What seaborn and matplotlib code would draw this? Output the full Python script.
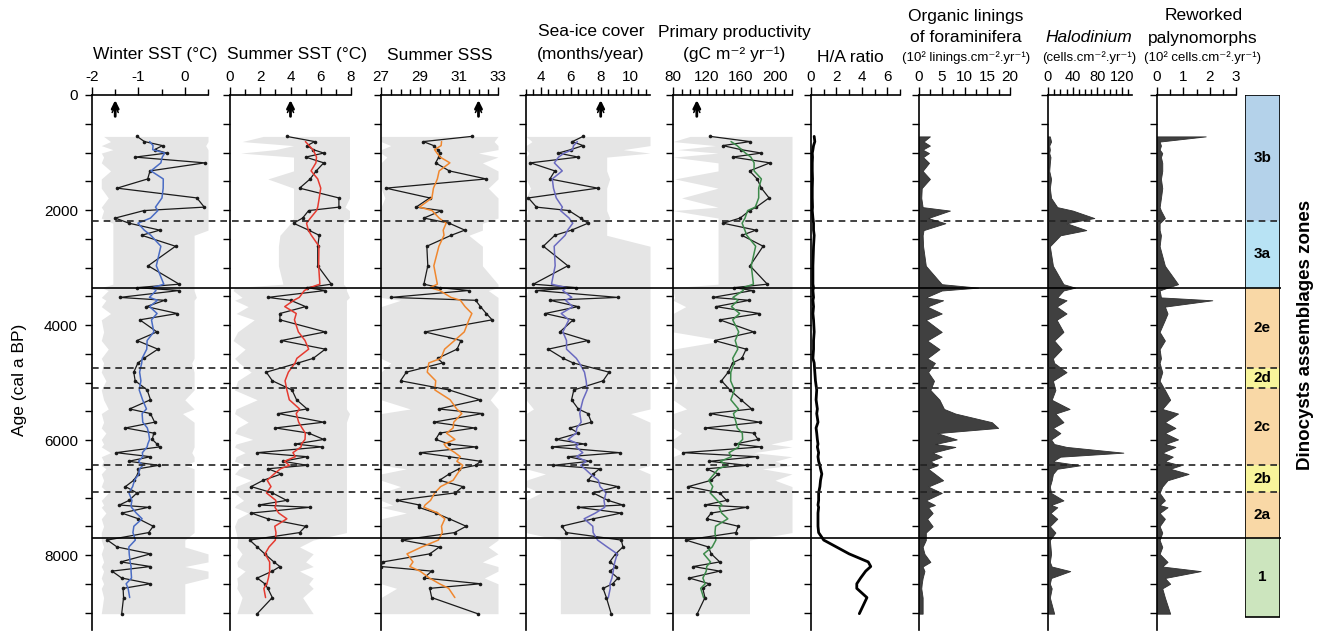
import matplotlib
matplotlib.use("Agg")
import matplotlib.pyplot as plt
import matplotlib.ticker as mticker
from matplotlib.patches import Rectangle
import numpy as np
import pandas as pd
import seaborn as sns

# sample ages (cal a BP), shared by all records
age = [720, 810, 880, 950, 1010, 1080, 1180, 1320, 1460, 1620, 1790, 1950, 2010, 2140, 2230, 2350, 2440, 2630, 2970, 3290,
       3350, 3400, 3520, 3570, 3680, 3800, 3910, 4120, 4270, 4420, 4580, 4660, 4820, 4970, 5130, 5300, 5460, 5540, 5690, 5790,
       5880, 5990, 6070, 6120, 6220, 6290, 6370, 6440, 6500, 6590, 6700, 6810, 6920, 7050, 7130, 7170, 7270, 7370, 7500, 7610,
       7740, 7860, 7980, 8120, 8200, 8280, 8400, 8500, 8580, 8740, 9020]

winter_sst = [-1.03, -0.87, -0.48, -0.65, -0.39, -1.07, 0.43, -0.75, -0.80, -1.46, 0.26, 0.42, -0.88, -1.5, -1.2, -0.54, -0.93, -0.2, -0.79, -0.12,
              -1.03, -0.12, -1.4, -0.43, -0.83, -0.16, -0.97, -0.6, -1.03, -0.58, -0.88, -1.01, -1.10, -1.07, -0.81, -0.74, -1.19, -0.74, -0.65, -1.28,
              -0.67, -0.7, -0.6, -0.54, -1.48, -0.74, -1.21, -0.56, -1.0, -1.01, -1.10, -1.28, -1.03, -1.2, -1.41, -0.78, -1.36, -1.0, -0.68, -0.78,
              -1.67, -1.46, -0.74, -1.38, -0.74, -1.57, -1.36, -0.74, -1.33, -1.32, -1.36]
winter_lo = [-1.75, -1.6, -1.8, -1.55, -1.8, -1.75, -1.8, -1.6, -1.8, -1.8, -1.65, -1.8, -1.75, -1.8, -1.55, -1.55, -1.55, -1.55, -1.55, -1.55,
             -1.8, -1.65, -1.8, -1.7, -1.8, -1.6, -1.8, -1.75, -1.8, -1.65, -1.8, -1.75, -1.8, -1.7, -1.8, -1.75, -1.65, -1.8, -1.75, -1.8,
             -1.7, -1.8, -1.75, -1.8, -1.6, -1.8, -1.75, -1.8, -1.7, -1.8, -1.75, -1.8, -1.65, -1.8, -1.75, -1.8, -1.7, -1.8, -1.75, -1.8,
             -1.8, -1.75, -1.8, -1.75, -1.8, -1.75, -1.8, -1.75, -1.8, -1.75, -1.8]
winter_hi = [0.5, 0.5, 0.45, 0.5, 0.5, 0.5, 0.5, 0.5, 0.5, 0.5, 0.5, 0.5, 0.5, 0.5, 0.5, 0.5, 0.2, 0.2, 0.2, 0.2,
             0.2, 0.2, 0.25, 0.2, 0.2, 0.2, 0.2, 0.2, 0.2, 0.2, 0.2, 0.15, 0.2, 0.2, 0.2, 0.0, 0.2, -0.05, 0.2, 0.2,
             0.2, 0.2, 0.2, 0.2, 0.15, 0.2, 0.2, 0.0, 0.2, 0.2, 0.2, 0.2, 0.2, 0.2, 0.2, 0.2, 0.2, 0.2, 0.2, 0.2,
             0.0, 0.0, 0.5, 0.5, 0.0, 0.5, 0.5, 0.0, 0.0, 0.0, 0.0]

summer_sst = [3.75, 5.6, 5.1, 5.5, 6.2, 5.0, 6.2, 5.7, 5.3, 4.6, 7.2, 7.2, 5.2, 4.8, 4.2, 5.2, 5.9, 5.8, 5.8, 6.7,
              5.1, 6.3, 2.5, 4.0, 5.0, 3.3, 3.3, 6.3, 3.4, 6.3, 5.5, 4.5, 2.4, 2.8, 4.1, 4.4, 5.1, 3.2, 6.2, 3.0,
              5.2, 6.2, 4.3, 6.1, 1.8, 5.1, 3.5, 5.1, 2.5, 3.4, 2.2, 1.4, 2.8, 3.75, 1.9, 5.3, 1.4, 2.5, 5.0, 4.6,
              1.3, 1.8, 2.3, 2.9, 3.3, 2.8, 1.8, 2.3, 2.5, 2.8, 1.8]
summer_lo = [2.2, 0.8, 4.2, 3.0, 0.7, 4.2, 4.2, 4.2, 2.5, 4.2, 4.2, 4.2, 4.2, 4.2, 4.0, 3.6, 3.3, 3.2, 3.2, 3.5,
             0.3, 0.2, 0.8, 0.3, 1.2, 0.4, 1.6, 0.5, 0.2, 1.0, 0.3, 0.6, 1.4, 0.5, 0.3, 1.8, 0.4, 0.3, 1.2, 0.5,
             0.3, 1.5, 0.4, 0.3, 1.0, 0.4, 0.3, 1.1, 0.6, 0.3, 1.4, 0.4, 0.3, 0.9, 0.4, 0.3, 1.2, 0.5, 0.3, 0.4,
             0.5, 0.45, 0.8, 0.45, 0.5, 1.0, 0.45, 0.5, 0.45, 0.8, 0.45]
summer_hi = [7.9, 7.9, 7.9, 7.9, 7.9, 7.9, 7.9, 7.9, 7.9, 7.9, 7.9, 7.6, 7.9, 7.9, 7.5, 7.5, 7.5, 7.5, 7.5, 7.5,
             7.7, 7.7, 7.9, 7.7, 7.7, 7.7, 7.7, 7.7, 7.7, 7.7, 7.7, 7.7, 7.7, 7.7, 7.7, 7.7, 7.7, 7.9, 7.7, 7.7,
             7.7, 7.7, 7.7, 7.7, 7.7, 7.7, 7.7, 7.7, 7.7, 7.7, 7.7, 7.7, 7.7, 7.7, 7.7, 7.7, 7.7, 7.7, 7.7, 7.7,
             5.5, 4.6, 5.5, 5.0, 5.5, 4.6, 5.5, 5.2, 5.5, 4.8, 5.5]

summer_sss = [31.65, 29.17, 29.7, 29.9, 30.0, 29.96, 29.8, 30.5, 32.4, 27.25, 29.5, 28.8, 30.1, 29.2, 30.5, 31.3, 30.6, 29.35, 29.4, 29.2,
              30.0, 31.5, 27.5, 31.85, 32.1, 32.4, 32.7, 29.25, 31.1, 30.9, 29.9, 30.16, 28.3, 28.0, 30.5, 32.07, 29.95, 32.2, 29.7, 31.8,
              30.0, 29.8, 30.5, 31.86, 29.0, 30.5, 32.1, 31.86, 31.0, 30.5, 30.0, 31.2, 30.8, 27.8, 28.97, 28.93, 29.8, 30.5, 31.37, 30.77,
              28.07, 30.0, 29.5, 27.1, 27.0, 29.6, 29.2, 32.1, 29.5, 29.6, 31.95]
sss_lo = [27.0, 27.0, 27.5, 27.0, 27.0, 27.3, 27.0, 27.0, 27.0, 27.0, 27.2, 27.0, 27.0, 27.0, 27.0, 27.0, 27.0, 27.0, 27.0, 27.0,
          27.0, 27.0, 27.0, 28.0, 27.0, 27.0, 27.0, 27.0, 27.0, 27.0, 27.0, 27.5, 27.0, 27.0, 27.0, 27.0, 28.5, 27.0, 27.0, 27.0,
          27.0, 27.0, 27.0, 27.0, 27.0, 27.0, 27.0, 27.0, 28.3, 27.0, 27.0, 28.0, 27.0, 27.0, 27.6, 27.0, 28.3, 27.0, 27.0, 27.0,
          27.0, 27.0, 27.0, 27.0, 27.0, 27.0, 27.0, 27.0, 27.8, 27.0, 27.0]
sss_hi = [33.0, 32.8, 33.0, 33.0, 32.0, 33.0, 32.2, 33.0, 33.0, 32.5, 33.0, 33.0, 33.0, 33.0, 32.2, 32.2, 31.5, 32.2, 32.2, 33.0,
          33.0, 32.5, 33.0, 33.0, 33.0, 33.0, 33.0, 33.0, 33.0, 33.0, 33.0, 33.0, 33.0, 33.0, 33.0, 32.6, 33.0, 33.0, 33.0, 33.0,
          33.0, 33.0, 33.0, 33.0, 33.0, 33.0, 33.0, 33.0, 33.0, 33.0, 33.0, 33.0, 33.0, 33.0, 33.0, 33.0, 33.0, 33.0, 33.0, 33.0,
          33.0, 32.5, 33.0, 32.2, 33.0, 33.0, 32.3, 33.0, 33.0, 33.0, 33.0]

sea_ice = [6.82, 6.11, 6.82, 6.0, 5.16, 6.5, 3.3, 4.93, 4.6, 7.8, 3.16, 3.7, 5.87, 6.65, 7.15, 6.05, 4.93, 4.16, 5.8, 3.49,
           6.38, 3.7, 9.15, 4.6, 6.49, 4.27, 6.16, 5.27, 7.15, 4.49, 5.49, 6.16, 8.56, 8.16, 6.2, 6.05, 6.5, 7.15, 7.38, 5.93,
           6.5, 5.04, 6.93, 4.71, 9.27, 5.82, 7.27, 4.82, 7.93, 7.5, 7.15, 9.15, 7.49, 8.49, 9.49, 6.49, 9.38, 7.5, 5.38, 5.71,
           9.38, 9.49, 9.0, 8.6, 9.05, 8.6, 9.15, 8.8, 8.16, 8.38, 8.7]
ice_lo = [3.0, 3.4, 3.0, 3.0, 3.2, 3.0, 3.0, 3.0, 3.0, 3.3, 3.0, 3.0, 3.1, 3.0, 3.0, 3.0, 3.0, 3.0, 3.0, 3.0,
          3.0, 3.1, 3.0, 3.0, 3.0, 3.0, 3.0, 3.0, 3.0, 3.0, 3.0, 3.0, 3.0, 3.0, 3.0, 3.0, 3.5, 3.0, 3.0, 3.0,
          3.0, 3.0, 3.0, 3.0, 3.0, 3.0, 3.0, 3.0, 3.0, 4.3, 3.0, 3.0, 4.0, 3.0, 3.0, 3.0, 3.0, 3.0, 3.0, 3.0,
          5.3, 5.3, 5.3, 5.3, 5.3, 5.3, 5.3, 5.3, 5.3, 5.3, 5.3]
ice_hi = [11.3, 11.3, 11.3, 9.5, 11.3, 8.4, 8.4, 8.4, 8.6, 8.4, 8.4, 8.4, 8.4, 8.6, 8.4, 8.4, 8.4, 11.3, 11.3, 11.3,
          11.3, 11.3, 11.3, 11.3, 11.3, 11.3, 11.3, 11.3, 11.3, 11.3, 11.3, 11.3, 11.3, 11.3, 11.3, 11.3, 11.3, 10.0, 11.3, 11.3,
          11.3, 11.3, 11.3, 11.3, 11.3, 11.3, 11.3, 11.3, 10.5, 11.3, 11.3, 11.3, 11.3, 11.3, 11.3, 11.3, 11.3, 11.3, 11.3, 11.3,
          11.3, 11.3, 11.3, 11.3, 11.3, 11.3, 11.3, 11.3, 11.3, 11.3, 11.3]

productivity = [124, 170.6, 138.5, 160, 184, 150, 194, 170, 179, 184, 193, 178, 170, 159, 139, 177.6, 161, 186, 170.6, 191,
                151.8, 173.7, 126.7, 169.8, 130.6, 181.6, 135, 175, 129, 166, 161, 150, 145, 137, 147, 160, 172.6, 123.5, 182, 117.6,
                175, 180, 153, 184, 91.4, 178.5, 122.7, 166.7, 119.6, 133, 125, 98, 135, 143, 117.6, 167, 125, 119.6, 156.8, 154,
                95, 121.6, 125, 135, 104, 135, 99, 122.7, 115, 117.6, 108.6]
prod_lo = [100, 80, 130, 85, 133, 80, 133, 133, 82, 133, 90, 133, 80, 133, 133, 133, 133, 133, 133, 133,
           80, 80, 82, 80, 95, 80, 80, 80, 140, 80, 80, 80, 80, 85, 80, 80, 96, 80, 80, 80,
           90, 80, 80, 80, 92, 80, 80, 80, 80, 80, 80, 80, 80, 80, 80, 80, 80, 80, 80, 80,
           80, 80, 80, 80, 80, 80, 80, 80, 80, 80, 80]
prod_hi = [220, 220, 220, 220, 220, 220, 220, 220, 220, 220, 220, 220, 220, 220, 220, 220, 220, 220, 220, 220,
           220, 220, 220, 220, 220, 220, 220, 220, 220, 220, 220, 220, 220, 220, 220, 220, 220, 220, 220, 220,
           220, 220, 195, 220, 175, 220, 200, 220, 185, 220, 200, 220, 220, 220, 220, 220, 220, 220, 220, 220,
           170, 170, 170, 170, 170, 170, 170, 170, 170, 170, 170]

ha_ratio = [0.25, 0.3, 0.2, 0.15, 0.1, 0.12, 0.1, 0.1, 0.12, 0.1, 0.1, 0.12, 0.1, 0.15, 0.2, 0.2, 0.25, 0.2, 0.15, 0.15,
            0.2, 0.15, 0.2, 0.15, 0.2, 0.15, 0.2, 0.25, 0.2, 0.2, 0.15, 0.25, 0.3, 0.35, 0.45, 0.4, 0.5, 0.45, 0.55, 0.4,
            0.45, 0.5, 0.55, 0.5, 0.6, 0.55, 0.6, 0.7, 0.75, 0.85, 0.75, 0.7, 0.6, 0.6, 0.55, 0.6, 0.55, 0.55, 0.55, 0.6,
            1.0, 2.0, 3.0, 4.5, 4.7, 4.3, 3.9, 3.6, 3.6, 4.4, 3.8]

organic = [2.4, 1.0, 2.4, 0.8, 2.2, 0.9, 2.2, 0.8, 2.4, 0.6, 0.5, 0.8, 6.8, 2.0, 5.8, 1.0, 0.8, 0.9, 1.5, 5.0,
           13.0, 5.0, 1.5, 5.3, 1.8, 5.0, 1.5, 5.0, 1.8, 4.5, 1.8, 3.5, 2.0, 3.3, 2.5, 4.5, 5.5, 8.0, 16.0, 17.4,
           4.0, 8.3, 3.5, 8.0, 3.0, 5.0, 2.5, 4.0, 2.0, 3.5, 5.3, 2.0, 5.0, 1.5, 3.5, 2.0, 3.0, 1.8, 3.0, 1.5,
           1.5, 0.8, 1.2, 2.5, 0.8, 1.2, 0.8, 0.6, 0.5, 0.8, 0.8]

halodinium = [3, 5, 2, 3, 2, 4, 3, 2, 5, 3, 5, 15, 40, 75, 30, 62, 20, 3, 8, 25,
              44, 25, 15, 30, 14, 30, 14, 25, 10, 22, 8, 10, 30, 8, 12, 6, 35, 12, 25, 8,
              20, 5, 10, 30, 122, 20, 8, 52, 15, 8, 6, 3, 5, 25, 5, 15, 4, 15, 3, 12,
              3, 4, 5, 3, 6, 36, 5, 3, 6, 3, 10]

reworked = [1.85, 0.1, 0.15, 0.1, 0.2, 0.15, 0.2, 0.2, 0.15, 0.2, 0.15, 0.1, 0.15, 0.3, 0.1, 0.1, 0.15, 0.1, 0.3, 0.8,
            0.4, 0.1, 0.15, 2.1, 0.3, 0.4, 0.3, 0.1, 0.3, 0.1, 0.15, 0.1, 0.2, 0.1, 0.3, 0.5, 0.2, 0.8, 0.3, 0.7,
            0.3, 0.8, 0.3, 0.7, 0.2, 0.6, 0.3, 0.9, 0.5, 1.2, 0.4, 0.2, 0.1, 0.3, 0.1, 0.4, 0.1, 0.3, 0.1, 0.2,
            0.1, 0.2, 0.1, 0.4, 0.2, 1.66, 0.3, 0.5, 0.2, 0.3, 0.5]

# zones
zone_names = ["3b", "3a", "2e", "2d", "2c", "2b", "2a", "1"]
zone_top = [0, 2190, 3350, 4750, 5100, 6440, 6900, 7700]
zone_bottom = [2190, 3350, 4750, 5100, 6440, 6900, 7700, 9080]
zone_colors = ["#b4d2ea", "#b8e3f4", "#f9d8a6", "#f8f49b", "#f9d8a6", "#f8f49b", "#f9d8a6", "#cce5be"]
solid_bounds = [3350, 7700]
dashed_bounds = [2190, 4750, 5100, 6440, 6900]

W, H = 1320, 636
Y_TOP, Y_BOT = 95, 630
AGE_MAX = 9304

sns.set_style("ticks")
plt.rcParams["font.family"] = ["Liberation Sans", "DejaVu Sans"]
for key in ["text.color", "axes.labelcolor", "xtick.color", "ytick.color", "axes.edgecolor"]:
    plt.rcParams[key] = "black"

fig = plt.figure(figsize=(W / 100, H / 100), dpi=100)


def px_axes(x0, x1):
    return fig.add_axes([x0 / W, (H - Y_BOT) / H, (x1 - x0) / W, (Y_BOT - Y_TOP) / H])


def style_axis(ax, xlim, major, minor, first=False, tick_size=11):
    ax.set_xlim(*xlim)
    ax.set_ylim(AGE_MAX, 0)
    for s in ["right", "bottom"]:
        ax.spines[s].set_visible(False)
    for s in ["left", "top"]:
        ax.spines[s].set_linewidth(1.2)
        ax.spines[s].set_color("black")
    ax.xaxis.set_ticks_position("top")
    ax.xaxis.set_major_locator(mticker.FixedLocator(major))
    ax.xaxis.set_minor_locator(mticker.MultipleLocator(minor))
    ax.xaxis.set_major_formatter(mticker.FuncFormatter(lambda v, p: f"{v:g}"))
    ax.tick_params(axis="x", which="major", direction="out", length=6, width=1, pad=2,
                   labelsize=tick_size, colors="black")
    ax.tick_params(axis="x", which="minor", direction="out", length=4, width=1, colors="black")
    ax.yaxis.set_major_locator(mticker.MultipleLocator(2000))
    ax.yaxis.set_minor_locator(mticker.MultipleLocator(500))
    ax.tick_params(axis="y", which="both", direction="out", length=5, width=1, pad=5,
                   labelsize=11, colors="black")
    if not first:
        ax.tick_params(axis="y", labelleft=False)
    ax.set_xlabel("")
    ax.set_ylabel("")
    ax.patch.set_alpha(0)


def double_arrow(ax, xv):
    ax.annotate("", xy=(xv, 40), xytext=(xv, 420),
                arrowprops=dict(arrowstyle="->", lw=2.0, color="black", mutation_scale=11))
    ax.annotate("", xy=(xv, 120), xytext=(xv, 330),
                arrowprops=dict(arrowstyle="->", lw=1.1, color="black", mutation_scale=11))


recon = [
    (92, 208, winter_sst, winter_lo, winter_hi, "#4a6cc4", (-2, 0.5), [-2, -1, 0], 0.5, -1.5),
    (230, 351, summer_sst, summer_lo, summer_hi, "#e53a30", (0, 8), [0, 2, 4, 6, 8], 1, 4),
    (381, 498, summer_sss, sss_lo, sss_hi, "#f0872e", (27, 33), [27, 29, 31, 33], 0.5, 32),
    (526, 650, sea_ice, ice_lo, ice_hi, "#6a6ac0", (3, 11.3), [4, 6, 8, 10], 0.5, 8),
    (673, 792, productivity, prod_lo, prod_hi, "#3d8b4b", (80, 220), [80, 120, 160, 200], 10, 108),
]

for i, (x0, x1, vals, lo, hi, col, xlim, major, minor, arrow_x) in enumerate(recon):
    ax = px_axes(x0, x1)
    ax.fill_betweenx(age, lo, hi, color="#e5e5e5", lw=0, zorder=1)
    smooth = pd.Series(vals).rolling(5, center=True, min_periods=3).mean()
    sns.lineplot(x=vals, y=age, ax=ax, orient="y", sort=False, estimator=None,
                 color="#1a1a1a", lw=0.9, marker="o", markersize=2.6, markeredgewidth=0, zorder=3)
    sns.lineplot(x=smooth.values[1:-1], y=age[1:-1], ax=ax, orient="y", sort=False, estimator=None,
                 color=col, lw=1.1, zorder=4)
    style_axis(ax, xlim, major, minor, first=(i == 0))
    double_arrow(ax, arrow_x)

# H/A ratio
ax = px_axes(811, 900)
sns.lineplot(x=ha_ratio, y=age, ax=ax, orient="y", sort=False, estimator=None, color="black", lw=2.0)
style_axis(ax, (0, 7), [0, 2, 4, 6], 1)

# filled profiles
fills = [
    (919, 1010, organic, (0, 20), [0, 5, 10, 15, 20], 2.5, 11),
    (1048, 1132, halodinium, (0, 136), [0, 40, 80, 120], 10, 10.5),
    (1157, 1236, reworked, (0, 3), [0, 1, 2, 3], 0.5, 11),
]
for x0, x1, vals, xlim, major, minor, ts in fills:
    ax = px_axes(x0, x1)
    ax.fill_betweenx(age, 0, vals, color="#404040", lw=0.6, edgecolor="#303030")
    style_axis(ax, xlim, major, minor, tick_size=ts)

# zone column
axz = px_axes(1245, 1280)
for name, t, b, c in zip(zone_names, zone_top, zone_bottom, zone_colors):
    axz.axhspan(t, b, color=c, lw=0)
    axz.text(0.5, (t + b) / 2, name, ha="center", va="center", fontsize=11, fontweight="bold", color="black")
axz.add_patch(Rectangle((0, 0), 1, zone_bottom[-1], fill=False, lw=1.2, edgecolor="black"))
axz.set_xlim(0, 1)
axz.set_ylim(AGE_MAX, 0)
axz.axis("off")

# zone boundaries across the whole diagram
axl = px_axes(92, 1281)
axl.set_xlim(0, 1)
axl.set_ylim(AGE_MAX, 0)
axl.axis("off")
for yb in solid_bounds:
    axl.axhline(yb, color="black", lw=1.2)
for yb in dashed_bounds:
    axl.axhline(yb, color="#222222", lw=1.2, ls=(0, (4, 3)))

# column headers
headers = [
    ("Winter SST (°C)", 155, 55, 12.5, "normal"),
    ("Summer SST (°C)", 297, 55, 12.5, "normal"),
    ("Summer SSS", 440, 55, 12.5, "normal"),
    ("Sea-ice cover", 591, 32, 12.5, "normal"),
    ("(months/year)", 591, 54, 12.5, "normal"),
    ("Primary productivity", 734, 32, 12.5, "normal"),
    ("(gC m⁻² yr⁻¹)", 734, 54, 12.5, "normal"),
    ("H/A ratio", 850, 58, 12.5, "normal"),
    ("Organic linings", 966, 16, 12.5, "normal"),
    ("of foraminifera", 966, 38, 12.5, "normal"),
    ("(10² linings.cm⁻².yr⁻¹)", 966, 58, 9.5, "normal"),
    ("Halodinium", 1089, 38, 12.5, "italic"),
    ("(cells.cm⁻².yr⁻¹)", 1089, 58, 9.5, "normal"),
    ("Reworked", 1204, 16, 12.5, "normal"),
    ("palynomorphs", 1203, 38, 12.5, "normal"),
    ("(10² cells.cm⁻².yr⁻¹)", 1203, 58, 9.5, "normal"),
]
for txt, x, y, fs, st in headers:
    fig.text(x / W, 1 - y / H, txt, ha="center", va="center", fontsize=fs, style=st, color="black")

fig.text(20 / W, 1 - 380 / H, "Age (cal a BP)", rotation=90, ha="center", va="center", fontsize=12.5)
fig.text(1305 / W, 1 - 335 / H, "Dinocysts assemblages zones", rotation=90, ha="center", va="center",
         fontsize=13.5, fontweight="bold")

fig.savefig("out.png", dpi=100)
